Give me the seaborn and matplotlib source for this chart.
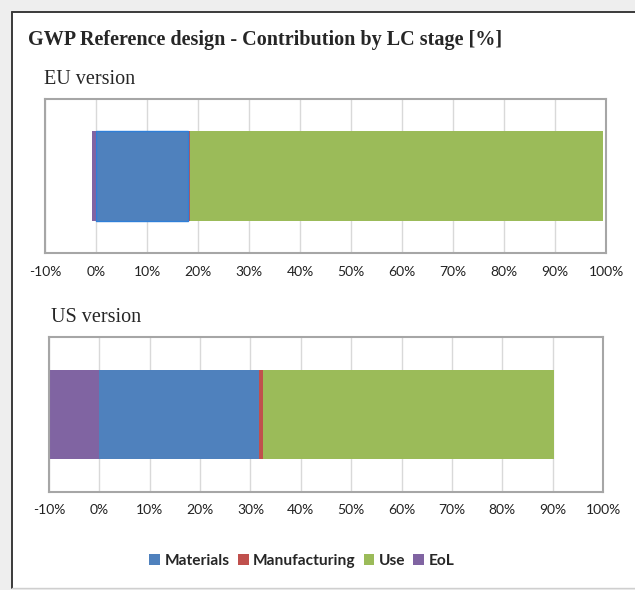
import matplotlib
matplotlib.use("Agg")
import matplotlib.pyplot as plt
from matplotlib.patches import Patch, Rectangle
from matplotlib.lines import Line2D
from matplotlib.ticker import FuncFormatter
import pandas as pd
import seaborn as sns

sns.set_theme(style="white")

# Life-cycle stage contributions to GWP, in percent
stages = ["Materials", "Manufacturing", "Use", "EoL"]
stage_colors = ["#4F81BD", "#C0504D", "#9BBB59", "#8064A2"]
eu_values = [18.1, 0.3, 81.1, -0.7]
us_values = [31.6, 0.9, 57.8, -9.8]
x_ticks = [-10, 0, 10, 20, 30, 40, 50, 60, 70, 80, 90, 100]

W, H = 635, 590
fig = plt.figure(figsize=(W / 100, H / 100), dpi=100)
fig.patch.set_facecolor("white")


def px(x0, y0, x1, y1):
    """Figure-fraction rectangle from pixel corners (top-left origin)."""
    return [x0 / W, 1 - y1 / H, (x1 - x0) / W, (y1 - y0) / H]


# outer chart frame with a soft grey margin
fig.add_artist(Rectangle((0, 0), 1, 1, transform=fig.transFigure,
                         facecolor="#eeeeee", edgecolor="none", zorder=-3))
fig.add_artist(Rectangle((12 / W, 1 - 588 / H), 1, (588 - 12) / H,
                         transform=fig.transFigure, facecolor="white",
                         edgecolor="none", zorder=-2))
fig.add_artist(Line2D([12 / W, 12 / W], [1 - 12 / H, 1 - 588 / H],
                      transform=fig.transFigure, color="#3a3a3a", lw=1.4))
fig.add_artist(Line2D([12 / W, 1], [1 - 12 / H, 1 - 12 / H],
                      transform=fig.transFigure, color="#3a3a3a", lw=1.4))
fig.add_artist(Line2D([12 / W, 1], [1 - 588 / H, 1 - 588 / H],
                      transform=fig.transFigure, color="#cfcfcf", lw=1.0))

serif = ["Liberation Serif", "DejaVu Serif"]
sans = ["Lato", "DejaVu Sans"]

fig.text(28 / W, 1 - 40 / H, "GWP Reference design - Contribution by LC stage [%]",
         family=serif, weight="bold", fontsize=14.5, va="center", ha="left")


def draw_panel(rect, label, label_xy, values, edge_first=False):
    ax = fig.add_axes(rect)
    vals = dict(zip(stages, values))
    # stacked positive segments drawn as overlapping cumulative bars
    pos_order = ["Materials", "Manufacturing", "Use"]
    cum = []
    total = 0
    for s in pos_order:
        total += vals[s]
        cum.append(total)
    for s, c in reversed(list(zip(pos_order, cum))):
        df = pd.DataFrame({"version": [label], "value": [c]})
        ec = "#2F7FD8" if (edge_first and s == "Materials") else "none"
        sns.barplot(data=df, x="value", y="version", orient="h", ax=ax,
                    color=stage_colors[stages.index(s)], saturation=1,
                    width=0.58, edgecolor=ec, linewidth=1.0 if ec != "none" else 0)
    df = pd.DataFrame({"version": [label], "value": [vals["EoL"]]})
    sns.barplot(data=df, x="value", y="version", orient="h", ax=ax,
                color=stage_colors[3], saturation=1, width=0.58, linewidth=0)

    ax.set_xlim(-10, 100)
    ax.set_ylim(0.5, -0.5)
    ax.set_xticks(x_ticks)
    ax.xaxis.set_major_formatter(FuncFormatter(lambda v, p: f"{v:.0f}%"))
    ax.set_yticks([])
    ax.set_xlabel("")
    ax.set_ylabel("")
    ax.grid(axis="x", color="#d9d9d9", lw=1.0)
    ax.set_axisbelow(True)
    for sp in ax.spines.values():
        sp.set_visible(True)
        sp.set_color("#a6a6a6")
        sp.set_linewidth(1.5)
    ax.tick_params(axis="x", length=0, pad=9, labelsize=10, labelcolor="#222222")
    for t in ax.get_xticklabels():
        t.set_family(sans)
    fig.text(label_xy[0] / W, 1 - label_xy[1] / H, label + " version",
             family=serif, fontsize=14.5, va="center", ha="left")
    return ax


draw_panel(px(45, 99, 606, 253), "EU", (44, 80), eu_values, edge_first=True)
draw_panel(px(49, 337, 603, 492), "US", (51, 317), us_values)

handles = [Patch(facecolor=c, edgecolor="none", label=s)
           for s, c in zip(stages, stage_colors)]
fig.legend(handles=handles, loc="center", bbox_to_anchor=(302 / W, 1 - 561 / H),
           ncol=4, frameon=False, handlelength=0.7, handleheight=0.7,
           handletextpad=0.3, columnspacing=0.5,
           prop={"family": sans, "weight": "bold", "size": 11.2})

fig.savefig("out.png", dpi=100)
